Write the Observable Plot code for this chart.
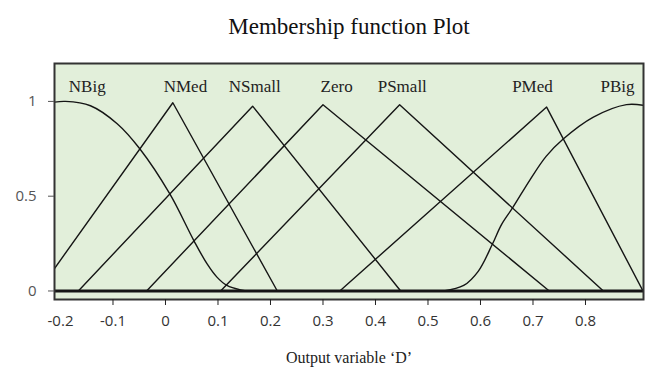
<!DOCTYPE html>
<html><head><meta charset="utf-8">
<script src="https://cdn.jsdelivr.net/npm/d3@7"></script>
<script src="https://cdn.jsdelivr.net/npm/@observablehq/plot@0.6"></script>
<style>body{margin:0;background:#fff;} #chart{width:656px;height:370px;}</style>
</head><body><div id="chart"></div>
<script>
// Fuzzy sets of output variable D
const sets = ["NBig", "NMed", "NSmall", "Zero", "PSmall", "PMed", "PBig"];
const labelX = [-0.149, 0.038, 0.170, 0.326, 0.451, 0.699, 0.861];
const labelY = 1.076;

// smooth shoulder curves
const nbigX = [-0.2114, -0.1905, -0.1429, -0.092, -0.049, 0.008, 0.054, 0.079, 0.098, 0.117, 0.143, 0.162];
const nbigY = [0.996, 1.0, 0.977, 0.882, 0.750, 0.513, 0.266, 0.144, 0.073, 0.029, 0.006, 0];
const pbigX = [0.530, 0.568, 0.596, 0.623, 0.640, 0.662, 0.694, 0.725, 0.757, 0.815, 0.878, 0.9105];
const pbigY = [0, 0.029, 0.105, 0.249, 0.350, 0.442, 0.585, 0.710, 0.800, 0.917, 0.983, 0.979];

// triangular sets: [left foot, peak, right foot]
const nmedX = [-0.242, 0.014, 0.213];   const nmedY = [0, 0.993, 0];
const nsmallX = [-0.166, 0.166, 0.448]; const nsmallY = [0, 0.975, 0];
const zeroX = [-0.036, 0.300, 0.731];   const zeroY = [0, 0.982, 0];
const psmallX = [0.105, 0.446, 0.834];  const psmallY = [0, 0.982, 0];
const pmedX = [0.332, 0.726, 0.9095];   const pmedY = [0, 0.970, 0];

const xTicks = [-0.2, -0.1, 0, 0.1, 0.2, 0.3, 0.4, 0.5, 0.6, 0.7, 0.8];
const xTickMarks = [-0.1, 0, 0.1, 0.2, 0.3, 0.4, 0.5, 0.6, 0.7, 0.8];
const yTicks = [0, 0.5, 1];

const rows = (name, xs, ys) => xs.map((x, i) => ({set: name, x, y: ys[i]}));
const triangles = [
  ...rows("NMed", nmedX, nmedY),
  ...rows("NSmall", nsmallX, nsmallY),
  ...rows("Zero", zeroX, zeroY),
  ...rows("PSmall", psmallX, psmallY),
  ...rows("PMed", pmedX, pmedY)
];
const curves = [...rows("NBig", nbigX, nbigY), ...rows("PBig", pbigX, pbigY)];

const serif = "'Liberation Serif', 'Times New Roman', serif";
const sans = "'Open Sans', 'DejaVu Sans', sans-serif";

const chart = Plot.plot({
  width: 656,
  height: 370,
  marginLeft: 54,
  marginRight: 13,
  marginTop: 63,
  marginBottom: 71,
  style: {background: "#fff", fontFamily: sans, overflow: "visible"},
  x: {domain: [-0.2114, 0.9105]},
  y: {domain: [-0.045, 1.2]},
  marks: [
    Plot.frame({fill: "#e2efda", stroke: null}),
    Plot.line(triangles, {x: "x", y: "y", z: "set", stroke: "#151515", strokeWidth: 1.4, clip: true}),
    Plot.line(curves, {x: "x", y: "y", z: "set", stroke: "#151515", strokeWidth: 1.4, curve: "catmull-rom", clip: true}),
    Plot.ruleY([0], {stroke: "#151515", strokeWidth: 3}),
    Plot.frame({stroke: "#333", strokeWidth: 2}),
    Plot.axisX(xTicks, {tickSize: 0, tickPadding: 16, fontSize: 15, fill: "#333", label: null, tickFormat: d => String(d)}),
    Plot.axisX(xTickMarks, {tickSize: 6, text: null, stroke: "#222", label: null}),
    Plot.axisY(yTicks, {tickSize: 6, tickPadding: 12, fontSize: 15, fill: "#555", stroke: "#555", label: null, tickFormat: d => String(d)}),
    Plot.text(sets, {x: (d, i) => labelX[i], y: () => labelY, text: d => d, fontFamily: serif, fontSize: 17, fill: "#222", lineAnchor: "middle"}),
    Plot.text(["Membership function Plot"], {frameAnchor: "top", dy: -37, fontFamily: serif, fontSize: 23, fill: "#111", lineAnchor: "middle"}),
    Plot.text(["Output variable \u2018D\u2019"], {frameAnchor: "bottom", dy: 58, fontFamily: serif, fontSize: 16, fill: "#222", lineAnchor: "middle"})
  ]
});
document.getElementById("chart").appendChild(chart);
</script>
</body></html>
